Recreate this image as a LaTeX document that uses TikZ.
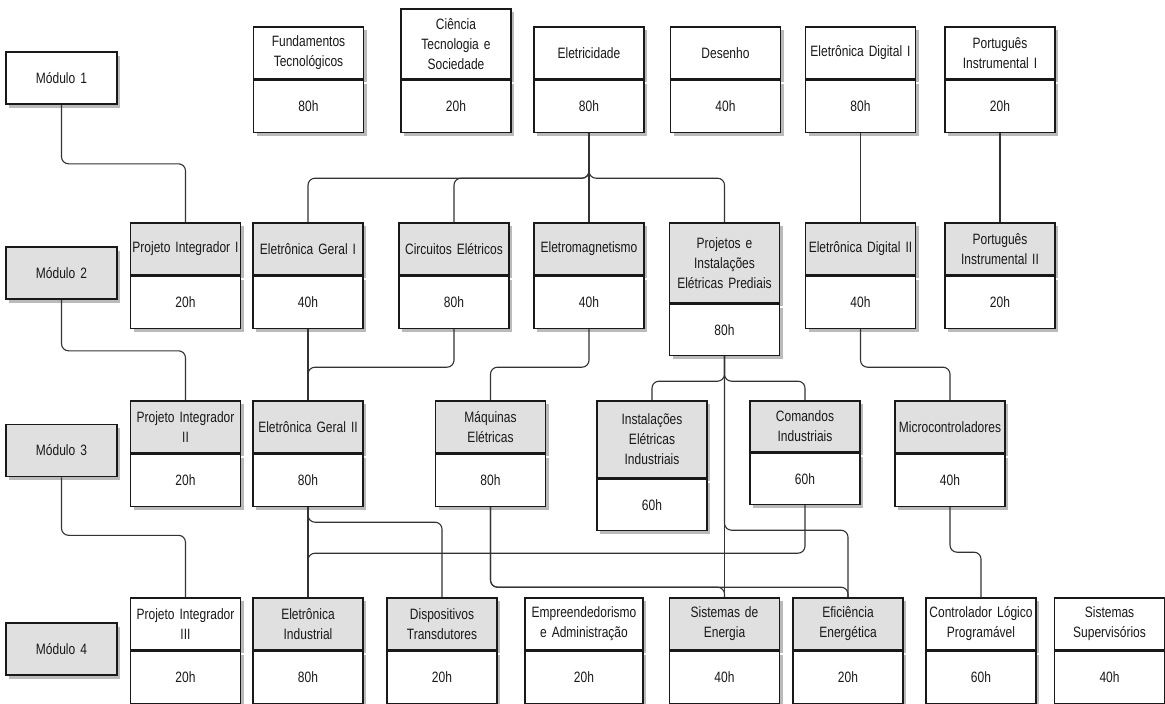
\documentclass[tikz,border=0pt]{standalone}
\usepackage{fontspec}
\setmainfont{Liberation Sans}[FakeStretch=0.8]
\usetikzlibrary{positioning,shadows}

\begin{document}
\begin{tikzpicture}[x=1pt,y=-1pt,
		subj/.style={draw=black!90,line width=1.6pt,fill=black!12,minimum width=110pt,
				minimum height=52pt,text width=110pt,inner xsep=0pt,inner ysep=1pt,align=center,anchor=north,
				font=\fontsize{15}{20}\selectfont,text=black!90,
				drop shadow={shadow xshift=3pt,shadow yshift=-3.5pt,fill=black!60,opacity=0.45}},
		subjw/.style={subj,fill=white},
		hrs/.style={subj,fill=white,anchor=center},
		modbox/.style={subj,minimum width=111pt,anchor=center},
		link/.style={draw=black!80,line width=1.1pt,rounded corners=7pt}]
	\fill[white] (0,0) rectangle (1165,704);
	\useasboundingbox (0,0) rectangle (1165,704);

	\node[modbox,fill=white] (mod1) at (61.5,78) {Módulo 1};
	\node[modbox] (mod2) at (61.5,273) {Módulo 2};
	\node[modbox] (mod3) at (61.5,450.5) {Módulo 3};
	\node[modbox] (mod4) at (61.5,649) {Módulo 4};

	\node[subjw] (fund) at (308.5,26) {Fundamentos\\Tecnológicos};
	\node[hrs,below=0pt of fund] (fund-h) {80h};
	\node[subjw,minimum height=70pt] (cts) at (456,8) {Ciência\\Tecnologia e\\Sociedade};
	\node[hrs,below=0pt of cts] (cts-h) {20h};
	\node[subjw] (elet) at (589,26) {Eletricidade};
	\node[hrs,below=0pt of elet] (elet-h) {80h};
	\node[subjw] (des) at (725.5,26) {Desenho};
	\node[hrs,below=0pt of des] (des-h) {40h};
	\node[subjw] (edig1) at (860.5,26) {Eletrônica Digital I};
	\node[hrs,below=0pt of edig1] (edig1-h) {80h};
	\node[subjw] (port1) at (1000,26) {Português\\Instrumental I};
	\node[hrs,below=0pt of port1] (port1-h) {20h};

	\node[subj] (pi1) at (185.5,222) {Projeto Integrador I};
	\node[hrs,below=0pt of pi1] (pi1-h) {20h};
	\node[subj] (eg1) at (308,222) {Eletrônica Geral I};
	\node[hrs,below=0pt of eg1] (eg1-h) {40h};
	\node[subj] (circ) at (454,222) {Circuitos Elétricos};
	\node[hrs,below=0pt of circ] (circ-h) {80h};
	\node[subj] (emag) at (589,222) {Eletromagnetismo};
	\node[hrs,below=0pt of emag] (emag-h) {40h};
	\node[subj,minimum height=80pt] (proj) at (724.5,222) {Projetos e\\Instalações\\Elétricas Prediais};
	\node[hrs,below=0pt of proj,minimum height=51pt] (proj-h) {80h};
	\node[subj] (edig2) at (860.5,222) {Eletrônica Digital II};
	\node[hrs,below=0pt of edig2] (edig2-h) {40h};
	\node[subj] (port2) at (1000,222) {Português\\Instrumental II};
	\node[hrs,below=0pt of port2] (port2-h) {20h};

	\node[subj] (pi2) at (185.5,400) {Projeto Integrador\\II};
	\node[hrs,below=0pt of pi2] (pi2-h) {20h};
	\node[subj] (eg2) at (308,400) {Eletrônica Geral II};
	\node[hrs,below=0pt of eg2] (eg2-h) {80h};
	\node[subj] (maq) at (490.5,400) {Máquinas\\Elétricas};
	\node[hrs,below=0pt of maq] (maq-h) {80h};
	\node[subj,minimum height=77pt] (inst) at (652,400) {Instalações\\Elétricas\\Industriais};
	\node[hrs,below=0pt of inst,minimum height=51pt] (inst-h) {60h};
	\node[subj,minimum height=51pt] (com) at (805,400) {Comandos\\Industriais};
	\node[hrs,below=0pt of com,minimum height=51pt] (com-h) {60h};
	\node[subj] (micro) at (950,400) {Microcontroladores};
	\node[hrs,below=0pt of micro] (micro-h) {40h};

	\node[subjw] (pi3) at (185.5,597) {Projeto Integrador\\III};
	\node[hrs,below=0pt of pi3] (pi3-h) {20h};
	\node[subj] (ei) at (308,597) {Eletrônica\\Industrial};
	\node[hrs,below=0pt of ei] (ei-h) {80h};
	\node[subj] (disp) at (442,597) {Dispositivos\\Transdutores};
	\node[hrs,below=0pt of disp] (disp-h) {20h};
	\node[subjw,minimum width=118pt,text width=118pt] (emp) at (584,597) {Empreendedorismo\\e Administração};
	\node[hrs,below=0pt of emp,minimum width=118pt,text width=118pt] (emp-h) {20h};
	\node[subj] (sen) at (724.5,597) {Sistemas de\\Energia};
	\node[hrs,below=0pt of sen] (sen-h) {40h};
	\node[subj] (efic) at (848,597) {Eficiência\\Energética};
	\node[hrs,below=0pt of efic] (efic-h) {20h};
	\node[subjw] (clp) at (981,597) {Controlador Lógico\\Programável};
	\node[hrs,below=0pt of clp] (clp-h) {60h};
	\node[subjw] (sup) at (1109.5,597) {Sistemas\\Supervisórios};
	\node[hrs,below=0pt of sup] (sup-h) {40h};

	\draw[link] (mod1.south) -- ++(0,59) -| (pi1.north);
	\draw[link] (mod2.south) -- ++(0,51) -| (pi2.north);
	\draw[link] (mod3.south) -- ++(0,58) -| (pi3.north);

	\draw[link] (elet-h.south) -- ++(0,45) -| (eg1.north);
	\draw[link] (elet-h.south) -- ++(0,45) -| (circ.north);
	\draw[link] (elet-h.south) -- (emag.north);
	\draw[link] (elet-h.south) -- ++(0,45) -| (proj.north);
	\draw[link] (edig1-h.south) -- (edig2.north);
	\draw[link] (port1-h.south) -- (port2.north);

	\draw[link] (eg1-h.south) -- (eg2.north);
	\draw[link] (circ-h.south) -- ++(0,38) -| (eg2.north);
	\draw[link] (emag-h.south) -- ++(0,38) -| (maq.north);
	\draw[link] (edig2-h.south) -- ++(0,38) -| (micro.north);
	\draw[link] (proj-h.south) -- ++(0,25) -| (inst.north);
	\draw[link] (proj-h.south) -- ++(0,25) -| (com.north);
	\draw[link] (proj-h.south) -- (sen.north);
	\draw[link] (proj-h.south) -- ++(0,174) -| (efic.north);

	\draw[link] (eg2-h.south) -- (ei.north);
	\draw[link] (eg2-h.south) -- ++(0,15) -| (disp.north);
	\draw[link] (com-h.south) -- ++(0,48) -| (ei.north);
	\draw[link] (maq-h.south) -- ++(0,80) -| (sen.north);
	\draw[link] (maq-h.south) -- ++(0,80) -| (efic.north);
	\draw[link] (micro-h.south) -- ++(0,45) -| (clp.north);
\end{tikzpicture}
\end{document}
